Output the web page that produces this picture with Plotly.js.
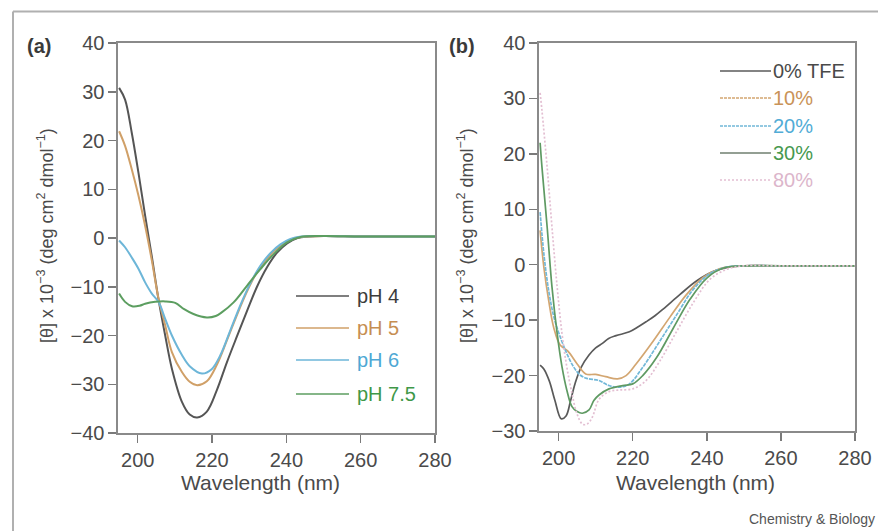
<!DOCTYPE html>
<html>
<head>
<meta charset="utf-8">
<script src="https://cdn.plot.ly/plotly-3.0.1.min.js"></script>
<style>html,body{margin:0;padding:0;background:#fff;}#chart{width:878px;height:531px;}</style>
</head>
<body>
<div id="chart"></div>
<script>
// ---------- Panel (a): pH series ----------
const namesA = ['pH 4', 'pH 5', 'pH 6', 'pH 7.5'];
const pH4_x = [195, 196.6, 198.4, 200.2, 202.0, 203.8, 205.6, 207.4, 209.2, 211.9, 214.0, 216.0, 218.6, 221.3, 224.0, 226.7, 229.4, 232.1, 234.8, 237.5, 240.2, 243.0, 246.0, 250, 260, 270, 280];
const pH4_y = [30.8, 28.4, 21.6, 13.4, 4.6, -3.8, -12.6, -20.0, -26.8, -33.6, -36.2, -36.8, -35.6, -31.2, -25.5, -20.2, -15.0, -10.0, -6.0, -3.0, -1.1, 0.0, 0.3, 0.4, 0.3, 0.3, 0.3];
const pH5_x = [195, 196.6, 198.4, 200.2, 202.0, 203.8, 205.6, 207.4, 209.2, 211.9, 214.0, 216.0, 218.6, 221.3, 224.0, 226.7, 229.4, 232.1, 234.8, 237.5, 240.2, 243.0, 246.0, 250, 260, 270, 280];
const pH5_y = [21.9, 18.9, 14.1, 8.7, 2.5, -4.6, -12.4, -17.9, -23.4, -27.5, -29.5, -30.2, -29.4, -26.0, -21.0, -15.8, -11.0, -7.0, -4.2, -2.1, -0.7, 0.1, 0.3, 0.4, 0.3, 0.3, 0.3];
const pH6_x = [195, 196.6, 198.4, 200.2, 202.0, 203.8, 205.6, 207.4, 209.2, 211.9, 214.0, 217.3, 219.9, 222.2, 224.9, 227.6, 230.3, 233.0, 235.7, 238.4, 241.1, 244.0, 250, 260, 270, 280];
const pH6_y = [-0.5, -1.9, -4.0, -6.3, -9.1, -11.4, -13.1, -16.6, -20.0, -24.0, -26.3, -27.8, -26.9, -24.1, -19.0, -13.8, -9.3, -5.7, -3.1, -1.3, -0.2, 0.3, 0.4, 0.3, 0.3, 0.3];
const pH75_x = [195, 196.6, 198.5, 200.5, 202.0, 204.7, 207.4, 210.1, 212.5, 215.0, 218.6, 221.0, 222.7, 225.8, 229.4, 233.0, 236.6, 240.2, 243.8, 250, 260, 270, 280];
const pH75_y = [-11.4, -13.1, -14.0, -13.9, -13.5, -13.1, -13.0, -13.3, -14.6, -15.6, -16.3, -16.0, -15.2, -13.2, -9.8, -6.4, -3.3, -0.9, 0.2, 0.4, 0.3, 0.3, 0.3];

// ---------- Panel (b): TFE series ----------
const namesB = ['0% TFE', '10%', '20%', '30%', '80%'];
const tfe0_x = [195, 196, 197.5, 199, 200.7, 202, 203.2, 204.5, 206, 208.2, 210, 211.8, 213.5, 215.5, 219.1, 221.5, 223.6, 226, 228.2, 232.7, 237.3, 241.8, 246.4, 250, 260, 270, 280];
const tfe0_y = [-18.1, -18.8, -21.0, -24.5, -27.8, -27.3, -24.6, -21.3, -18.6, -16.3, -15.0, -14.2, -13.3, -12.8, -12.1, -11.2, -10.3, -9.2, -8.0, -5.4, -2.9, -1.2, -0.4, -0.2, -0.2, -0.2, -0.2];
const tfe10_x = [195, 196, 197.3, 198.7, 200.4, 202.5, 205, 207.3, 210, 212.7, 215.9, 218.2, 220.9, 225.5, 230, 234.5, 239, 243.6, 247.3, 250, 260, 270, 280];
const tfe10_y = [6.2, -0.4, -6.4, -11.4, -14.5, -15.6, -17.9, -19.7, -19.8, -20.2, -20.6, -20.0, -17.9, -13.8, -9.5, -5.4, -2.3, -0.7, -0.3, -0.2, -0.2, -0.2, -0.2];
const tfe20_x = [195, 196, 197.3, 198.7, 200.4, 202.2, 204, 205.8, 207.6, 210.9, 213.6, 216.4, 219.1, 222.7, 227.3, 231.8, 236.4, 240.9, 245.5, 250, 260, 270, 280];
const tfe20_y = [9.5, 2.0, -4.6, -9.4, -13.0, -16.0, -18.4, -19.9, -20.5, -20.9, -21.8, -22.1, -21.5, -18.5, -13.8, -9.1, -4.4, -1.6, -0.4, -0.2, -0.2, -0.2, -0.2];
const tfe30_x = [195, 195.5, 196.9, 198.2, 199.6, 200.9, 202.2, 203.6, 205, 206.4, 208.2, 209.5, 210.9, 213.6, 217.3, 220, 222.7, 226.4, 230.9, 235.5, 240, 244.5, 250, 260, 270, 280];
const tfe30_y = [22.0, 17.6, 6.8, -4.0, -12.4, -18.4, -22.6, -25.6, -26.5, -26.8, -26.2, -24.5, -23.5, -22.4, -21.8, -21.5, -20.0, -16.8, -11.5, -6.2, -2.4, -0.6, -0.2, -0.2, -0.2, -0.2];
const tfe80_x = [195, 195.5, 196.9, 198.2, 199.6, 200.9, 202.2, 203.6, 204.9, 206.5, 207.8, 209.1, 210.9, 213.6, 216.4, 220, 223.6, 227.3, 231.8, 236.4, 240.9, 245.5, 250, 260, 270, 280];
const tfe80_y = [31.0, 27.8, 17.6, 6.8, -4.0, -12.4, -18.4, -23.2, -26.8, -28.8, -28.7, -27.5, -24.3, -22.9, -22.6, -22.4, -20.9, -17.4, -12.1, -6.8, -2.6, -0.8, -0.2, -0.2, -0.2, -0.2];

// ---------- styles ----------
const colA = ['#555555', '#d0a068', '#6db6d8', '#5c9e60'];
const txtA = ['#3c3c3c', '#c68e52', '#4ea8d4', '#3f9848'];
const colB = ['#5a5a5a', '#d3a671', '#72b8d8', '#5f9a63', '#e3bfd2'];
const txtB = ['#4a4a4a', '#c99358', '#52acd6', '#47994f', '#dcb6cb'];
const dashB = ['solid', 'solid', '4px,1px', 'solid', '2px,2px'];
const legDashB = ['solid', '3px,1px', '3px,1px', 'solid', '2px,2px'];
const legColB = ['#5a5a5a', '#d3a671', '#72b8d8', '#6f7f6f', '#e3bfd2'];

const FONT = '"Liberation Sans", Arial, Helvetica, sans-serif';
const W = 878, H = 531;
const px = v => v / W;
const py = v => 1 - v / H;

const dataA = [[pH4_x, pH4_y], [pH5_x, pH5_y], [pH6_x, pH6_y], [pH75_x, pH75_y]];
const dataB = [[tfe0_x, tfe0_y], [tfe10_x, tfe10_y], [tfe20_x, tfe20_y], [tfe30_x, tfe30_y], [tfe80_x, tfe80_y]];

const traces = [];
dataA.forEach((d, i) => traces.push({
  x: d[0], y: d[1], type: 'scatter', mode: 'lines', name: namesA[i],
  line: {color: colA[i], width: 2, shape: 'spline', smoothing: 1},
  xaxis: 'x', yaxis: 'y', showlegend: false, hoverinfo: 'skip'
}));
dataB.forEach((d, i) => traces.push({
  x: d[0], y: d[1], type: 'scatter', mode: 'lines', name: namesB[i],
  line: {color: colB[i], width: 1.7, shape: 'spline', smoothing: 1, dash: dashB[i]},
  xaxis: 'x2', yaxis: 'y2', showlegend: false, hoverinfo: 'skip'
}));

const axisCommon = {
  showline: true, mirror: true, linecolor: '#8a8a8a', linewidth: 1.6,
  ticks: 'outside', ticklen: 8, tickwidth: 1.5, tickcolor: '#7a7a7a',
  showgrid: false, zeroline: false,
  tickfont: {family: FONT, size: 20, color: '#4a4a4a'}
};

const annotations = [];
const shapes = [];

// frame
shapes.push({type: 'line', xref: 'paper', yref: 'paper', x0: px(13), x1: px(878), y0: py(11.5), y1: py(11.5), line: {color: '#b0b0b0', width: 2}});
shapes.push({type: 'line', xref: 'paper', yref: 'paper', x0: px(13), x1: px(13), y0: py(11.5), y1: py(531), line: {color: '#b0b0b0', width: 2}});

// panel labels
annotations.push({text: '<b>(a)</b>', xref: 'paper', yref: 'paper', x: px(39), y: py(46), showarrow: false, xanchor: 'center', yanchor: 'middle', font: {family: FONT, size: 20, color: '#3a3a3a'}});
annotations.push({text: '<b>(b)</b>', xref: 'paper', yref: 'paper', x: px(462), y: py(46), showarrow: false, xanchor: 'center', yanchor: 'middle', font: {family: FONT, size: 20, color: '#3a3a3a'}});

// axis titles
const yTitle = '[θ] x 10<sup>−3</sup> (deg cm<sup>2</sup> dmol<sup>−1</sup>)';
annotations.push({text: yTitle, textangle: -90, xref: 'paper', yref: 'paper', x: px(45), y: py(236), showarrow: false, xanchor: 'center', yanchor: 'middle', font: {family: FONT, size: 18, color: '#4a4a4a'}});
annotations.push({text: yTitle, textangle: -90, xref: 'paper', yref: 'paper', x: px(465), y: py(236), showarrow: false, xanchor: 'center', yanchor: 'middle', font: {family: FONT, size: 18, color: '#4a4a4a'}});
annotations.push({text: 'Wavelength (nm)', xref: 'paper', yref: 'paper', x: px(260), y: py(482), showarrow: false, xanchor: 'center', yanchor: 'middle', font: {family: FONT, size: 21, color: '#4a4a4a'}});
annotations.push({text: 'Wavelength (nm)', xref: 'paper', yref: 'paper', x: px(695), y: py(482), showarrow: false, xanchor: 'center', yanchor: 'middle', font: {family: FONT, size: 21, color: '#4a4a4a'}});

// caption
annotations.push({text: 'Chemistry &amp; Biology', xref: 'paper', yref: 'paper', x: px(877), y: py(519), showarrow: false, xanchor: 'right', yanchor: 'middle', font: {family: FONT, size: 14, color: '#555'}});

// legend (a)
const legAy = [296, 328, 360, 394];
namesA.forEach((n, i) => {
  shapes.push({type: 'line', xref: 'paper', yref: 'paper', x0: px(296), x1: px(349), y0: py(legAy[i]), y1: py(legAy[i]), line: {color: colA[i], width: 1.7}});
  annotations.push({text: n, xref: 'paper', yref: 'paper', x: px(355), y: py(legAy[i]), showarrow: false, xanchor: 'left', yanchor: 'middle', font: {family: FONT, size: 20, color: txtA[i]}});
});
// legend (b)
const legBy = [71, 98, 126, 153, 180];
namesB.forEach((n, i) => {
  shapes.push({type: 'line', xref: 'paper', yref: 'paper', x0: px(720), x1: px(771), y0: py(legBy[i]), y1: py(legBy[i]), line: {color: legColB[i], width: 1.5, dash: legDashB[i]}});
  annotations.push({text: n, xref: 'paper', yref: 'paper', x: px(771), y: py(legBy[i]), showarrow: false, xanchor: 'left', yanchor: 'middle', font: {family: FONT, size: 20, color: txtB[i]}});
});

const layout = {
  width: W, height: H,
  margin: {l: 0, r: 0, t: 0, b: 0},
  paper_bgcolor: '#ffffff', plot_bgcolor: '#ffffff',
  showlegend: false,
  xaxis: Object.assign({}, axisCommon, {domain: [px(118), px(435)], range: [194.7, 280], tickvals: [200, 220, 240, 260, 280], anchor: 'y'}),
  yaxis: Object.assign({}, axisCommon, {domain: [py(433), py(43)], range: [-40, 40], dtick: 10, anchor: 'x'}),
  xaxis2: Object.assign({}, axisCommon, {domain: [px(539), px(855)], range: [194.7, 280], tickvals: [200, 220, 240, 260, 280], anchor: 'y2'}),
  yaxis2: Object.assign({}, axisCommon, {domain: [py(431), py(43)], range: [-30, 40], dtick: 10, anchor: 'x2'}),
  annotations: annotations,
  shapes: shapes
};

Plotly.newPlot('chart', traces, layout, {staticPlot: true, displayModeBar: false});
</script>
</body>
</html>
